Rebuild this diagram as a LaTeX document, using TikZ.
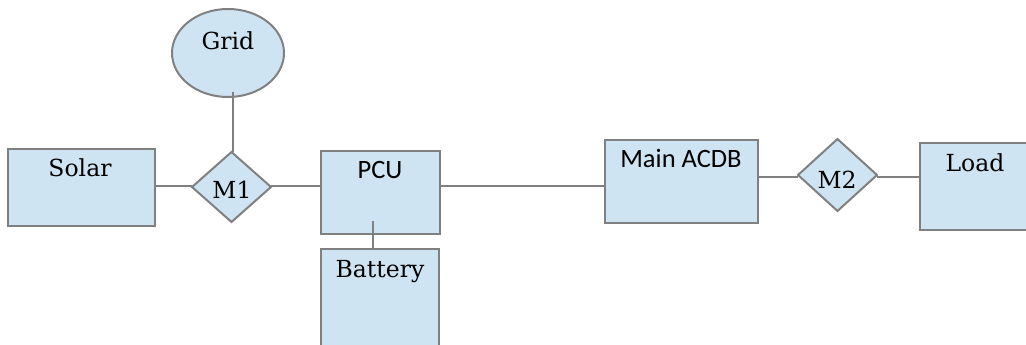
\documentclass[tikz,border=0pt]{standalone}
\usepackage{fontspec}
\setmainfont{DejaVu Serif}
\newfontfamily\calfont{Carlito}
\usetikzlibrary{shapes.geometric}
\definecolor{boxfill}{RGB}{207,228,242}
\definecolor{edgegray}{RGB}{128,128,128}
\begin{document}
\begin{tikzpicture}[x=1pt,y=-1pt,
  box/.style={draw=edgegray,line width=2pt,fill=boxfill,rectangle,inner sep=0pt,outer sep=0pt},
  oval/.style={draw=edgegray,line width=2pt,fill=boxfill,ellipse,inner sep=0pt,outer sep=0pt},
  dia/.style={draw=edgegray,line width=2pt,fill=boxfill,diamond,inner sep=0pt,outer sep=0pt},
  wire/.style={draw=edgegray,line width=1.6pt},
  serlbl/.style={font=\fontsize{23.5}{26}\selectfont,inner sep=0pt,anchor=base},
  sanlbl/.style={font=\calfont\fontsize{26.5}{29}\selectfont,inner sep=0pt,anchor=base}]
\useasboundingbox (0,0) rectangle (1026,345);
\clip (0,0) rectangle (1026,345);
% shapes
\node[oval,minimum width=112pt,minimum height=88pt] (Grid) at (228,53) {};
\node[box,minimum width=147pt,minimum height=77pt] (Solar) at (81.5,187.5) {};
\node[dia,minimum width=79pt,minimum height=70pt] (M1) at (231.5,187) {};
\node[box,minimum width=119pt,minimum height=83pt] (PCU) at (380.5,192.5) {};
\node[box,minimum width=118pt,minimum height=110pt] (Battery) at (380,304) {};
\node[box,minimum width=153pt,minimum height=83pt] (ACDB) at (681.5,181.5) {};
\node[dia,minimum width=79pt,minimum height=72pt] (M2) at (837.5,175) {};
\node[box,minimum width=110pt,minimum height=87pt] (Load) at (975,186.5) {};
% free ends
\coordinate (gridfoot) at (233,92);
\coordinate (pcufoot) at (373,221);
% connectors
\draw[wire] (gridfoot) -- (gridfoot |- M1.north);
\draw[wire] (Solar.east |- 0,186) -- (M1.west |- 0,186);
\draw[wire] (M1.east |- 0,186) -- (PCU.west |- 0,186);
\draw[wire] (PCU.east |- 0,186) -- (ACDB.west |- 0,186);
\draw[wire] (ACDB.east |- 0,177) -- (M2.west |- 0,177);
\draw[wire] (M2.east |- 0,177) -- (Load.west |- 0,177);
\draw[wire] (pcufoot) -- (pcufoot |- Battery.north);
% labels
\node[serlbl] (tGrid) at (228,50) {Grid};
\node[serlbl] (tSolar) at (80,176) {Solar};
\node[serlbl] (tM1) at (232,198) {M1};
\node[sanlbl] (tPCU) at (380,178) {PCU};
\node[serlbl] (tBattery) at (380,277) {Battery};
\node[sanlbl] (tACDB) at (681,167) {Main ACDB};
\node[serlbl] (tM2) at (837,188) {M2};
\node[serlbl] (tLoad) at (975,171) {Load};
\end{tikzpicture}
\end{document}
